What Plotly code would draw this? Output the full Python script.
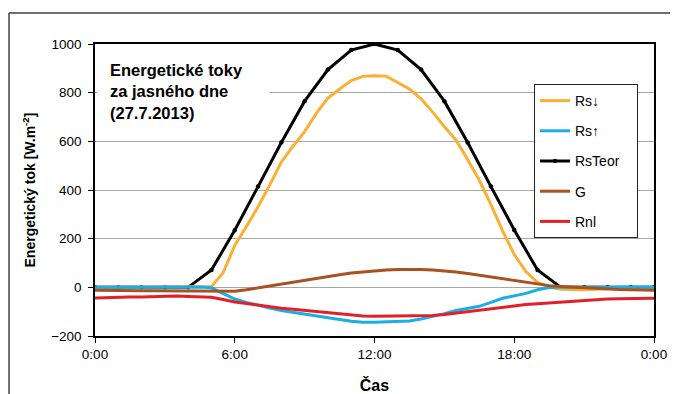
import plotly.graph_objects as go

# half-hourly time axis (hours)
time_h = [i * 0.5 for i in range(49)]
time_hourly = list(range(25))

rs_down = [0, 0, 0, 0, 0, 0, 0, 0, 0, 0, 3, 60, 172, 250, 331, 420, 515, 580, 640, 715,
           778, 815, 850, 867, 870, 868, 843, 815, 775, 720, 660, 605, 525, 440, 340, 232,
           135, 65, 20, 1, -8, -10, -10, -8, -5, -3, -2, -1, 0]
rs_up = [0, 1, 0, 1, 0, 1, 0, 1, 0, 1, -2, -25, -48, -62, -75, -85, -95, -103, -110, -117,
         -125, -132, -139, -143, -143, -142, -142, -138, -130, -120, -108, -95, -88, -78, -62, -45,
         -35, -25, -10, -1, 0, 1, 0, 1, 0, 1, 0, 1, 0]
rs_teor = [0, 0, 0, 0, 0, 71, 235, 414, 595, 765, 895, 975, 1000, 975, 895, 765, 595, 414,
           236, 71, 0, 0, 0, 0, 0]
g_flux = [-12, -13, -13, -13, -14, -14, -14, -14, -15, -15, -15, -15, -16, -10, -2, 6, 14, 22,
          29, 37, 45, 52, 59, 64, 68, 71, 73, 74, 73, 71, 68, 63, 57, 50, 42, 35,
          27, 19, 12, 7, 3, 0, -3, -5, -7, -9, -10, -11, -12]
rnl = [-44, -42, -41, -40, -40, -38, -37, -36, -38, -39, -41, -50, -60, -66, -73, -80, -86, -90,
       -95, -99, -103, -108, -113, -118, -119, -119, -118, -118, -118, -116, -112, -106, -100, -93, -87, -82,
       -75, -71, -67, -64, -60, -56, -52, -49, -48, -47, -46, -46, -45]

series_names = ["Rs↓", "Rs↑", "RsTeor", "G", "Rnl"]

tick_vals = [0, 6, 12, 18, 24]
tick_text = ["0:00", "6:00", "12:00", "18:00", "0:00"]

FONT = "Liberation Sans, Arial, sans-serif"
PAD = "\u00a0\u00a0\u00a0"  # widens the legend box slightly

fig = go.Figure()
fig.add_trace(go.Scatter(x=time_hourly, y=rs_teor, name=series_names[2] + PAD, mode="lines+markers",
                         line=dict(color="#000000", width=3), marker=dict(size=4.5, color="#000000"),
                         legendrank=3, legendgroup="c"))
fig.add_trace(go.Scatter(x=time_h, y=rs_down, name=series_names[0], mode="lines",
                         line=dict(color="#FBB034", width=3), legendrank=1, legendgroup="a"))
fig.add_trace(go.Scatter(x=time_h, y=rs_up, name=series_names[1], mode="lines",
                         line=dict(color="#1BAEE6", width=3), legendrank=2, legendgroup="b"))
fig.add_trace(go.Scatter(x=time_h, y=rnl, name=series_names[4], mode="lines",
                         line=dict(color="#E3202A", width=3), legendrank=5, legendgroup="e"))
fig.add_trace(go.Scatter(x=time_h, y=g_flux, name=series_names[3], mode="lines",
                         line=dict(color="#A9521F", width=3), legendrank=4, legendgroup="d"))

fig.update_layout(
    width=670, height=386,
    margin=dict(l=87, r=24, t=36, b=58, autoexpand=False),
    paper_bgcolor="white", plot_bgcolor="white",
    font=dict(family=FONT, size=13.5, color="black"),
    showlegend=True,
    legend=dict(x=0.7853, y=0.863, xanchor="left", yanchor="top",
                bgcolor="white", bordercolor="#222222", borderwidth=1,
                font=dict(size=14, family=FONT), tracegroupgap=9,
                itemwidth=30),
    xaxis=dict(range=[0, 24], tickvals=tick_vals, ticktext=tick_text, automargin=False,
               showgrid=False, zeroline=False, showline=True, linecolor="black", linewidth=1.5,
               mirror=True, ticks="outside", ticklen=5, tickcolor="black",
               title=dict(text="<b>Čas</b>", font=dict(size=16, family=FONT), standoff=21)),
    yaxis=dict(range=[-200, 1000], dtick=200, automargin=False,
               showgrid=True, gridcolor="#A6A6A6", gridwidth=1,
               zeroline=True, zerolinecolor="#A6A6A6", zerolinewidth=1,
               showline=True, linecolor="black", linewidth=1.5, mirror=True,
               ticks="outside", ticklen=5, tickcolor="black", ticklabelstandoff=4,
               title=dict(text="<b>Energetický tok [W.m<sup>-2</sup>]</b>",
                          font=dict(size=14, family=FONT), standoff=12)),
)

fig.add_annotation(xref="paper", yref="paper", x=0.0036, y=0.839, xanchor="left", yanchor="middle",
                   text="<b>Energetické toky<br>za jasného dne<br>(27.7.2013)</b>",
                   showarrow=False, align="left", bgcolor="white", borderpad=12, width=147,
                   font=dict(size=16.5, family=FONT, color="black"))

# outer chart frame
fig.add_shape(type="line", xref="paper", yref="paper", x0=-0.1538, x1=1.1, y0=1.106, y1=1.106,
              line=dict(color="#404040", width=1.5))
fig.add_shape(type="line", xref="paper", yref="paper", x0=-0.1538, x1=-0.1538, y0=1.106, y1=-0.3,
              line=dict(color="#404040", width=1.5))

fig.write_html("out.html")
